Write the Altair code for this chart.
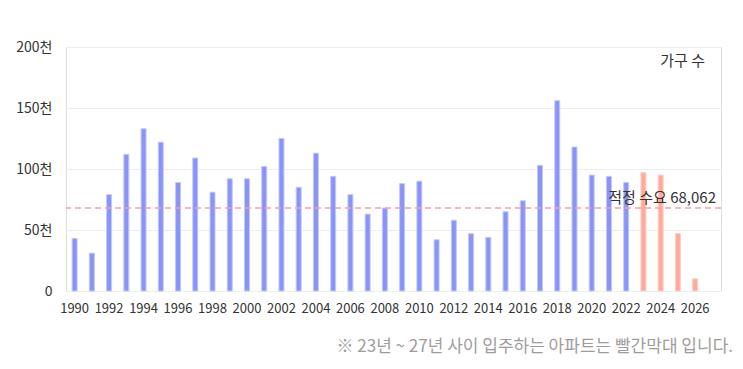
import altair as alt
import pandas as pd

years = list(range(1990, 2028))
values = [43, 31, 79, 112, 133, 122, 89, 109, 81, 92,
          92, 102, 125, 85, 113, 94, 79, 63, 68, 88,
          90, 42, 58, 47, 44, 65, 74, 103, 156, 118,
          95, 94, 89, 97, 95, 47, 10, 0]
values = [v * 1000 for v in values]
forecast_from = 2023
demand = 68062
tick_years = list(range(1990, 2027, 2))
y_ticks = [0, 50000, 100000, 150000, 200000]

df = pd.DataFrame({"year": years, "value": values})
df["kind"] = ["future" if y >= forecast_from else "past" for y in years]
df = df[df["value"] > 0]

FONT = "Noto Sans CJK KR"

x = alt.X("year:O", scale=alt.Scale(domain=years, paddingInner=0.6, paddingOuter=0.3),
          axis=alt.Axis(values=tick_years, title=None, labelAngle=0, ticks=False, domain=False,
                        labelFontSize=13, labelColor="#333", labelFont=FONT, labelPadding=11,
                        grid=False))
y = alt.Y("value:Q", scale=alt.Scale(domain=[0, 200000]),
          axis=alt.Axis(values=y_ticks, title=None, ticks=False, domain=False,
                        labelExpr="datum.value == 0 ? '0' : (datum.value / 1000) + '천'",
                        labelFontSize=14, labelColor="#333", labelFont=FONT, labelPadding=14,
                        gridColor="#eeeeee"))

bars = alt.Chart(df).mark_bar(size=5, strokeWidth=1).encode(
    x=x, y=y,
    fill=alt.Fill("kind:N", scale=alt.Scale(domain=["past", "future"], range=["#8a94f6", "#ffab9b"]), legend=None),
    stroke=alt.Stroke("kind:N", scale=alt.Scale(domain=["past", "future"], range=["#c3c8fb", "#ffd0c6"]), legend=None),
)

rule = alt.Chart(pd.DataFrame({"v": [demand]})).mark_rule(
    color="#f4a3a3", strokeDash=[6, 4], strokeWidth=1.5
).encode(y=alt.Y("v:Q"))

rule_text = alt.Chart(pd.DataFrame({"v": [demand], "t": ["적정 수요 68,062"]})).mark_text(
    align="right", baseline="bottom", dy=-2, fontSize=15, color="#333", font=FONT
).encode(y=alt.Y("v:Q"), x=alt.value(650), text="t:N")

unit_text = alt.Chart(pd.DataFrame({"t": ["가구 수"]})).mark_text(
    align="right", baseline="middle", fontSize=15, color="#333", font=FONT
).encode(x=alt.value(639), y=alt.value(14), text="t:N")

foot_text = alt.Chart(pd.DataFrame({"t": ["※ 23년 ~ 27년 사이 입주하는 아파트는 빨간막대 입니다."]})).mark_text(
    align="right", baseline="middle", fontSize=17, color="#a09c9c", font=FONT
).encode(x=alt.value(667), y=alt.value(300), text="t:N")

chart = alt.layer(bars, rule, rule_text, unit_text, foot_text).properties(
    width=655, height=244,
    autosize=alt.AutoSizeParams(type="none"),
    padding={"left": 58, "top": 39, "right": 14, "bottom": 70},
).configure_view(stroke="#eeeeee").configure(background="white")

chart.save("out.html", embed_options={"renderer": "svg", "actions": False})
